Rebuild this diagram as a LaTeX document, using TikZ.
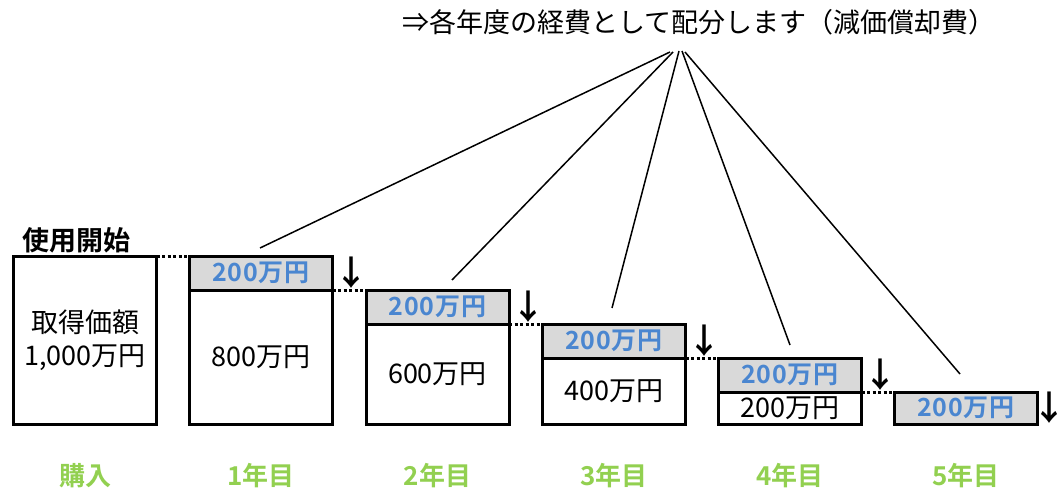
\documentclass[tikz,border=0pt]{standalone}
\usepackage{fontspec}
\setmainfont{Noto Sans CJK JP}[BoldFont={Noto Sans CJK JP Bold}]
\newfontfamily\valfont{Noto Sans CJK JP}[BoldFont={Noto Sans CJK JP Bold},LetterSpace=3]
\definecolor{bandgray}{HTML}{D9D9D9}
\definecolor{valblue}{HTML}{4A86D0}
\definecolor{yeargreen}{HTML}{92D050}
\begin{document}
\begin{tikzpicture}[x=1pt,y=-1pt,
  lower/.style={draw=black, line width=3pt, inner sep=0pt, outer sep=0pt, anchor=north west,
    minimum width=143pt, font=\fontsize{27}{33}\selectfont, align=center},
  band/.style={draw=black, line width=3pt, fill=bandgray, inner sep=0pt, outer sep=0pt, anchor=north west,
    minimum width=143pt, minimum height=34pt, text=valblue, font=\valfont\bfseries\fontsize{25}{30}\selectfont},
  dotline/.style={line width=3pt, dash pattern=on 3pt off 2.5pt},
  leader/.style={line width=1.5pt},
  downarr/.style={font=\bfseries\fontsize{34}{34}\selectfont, inner sep=0pt},
  year/.style={text=yeargreen, font=\bfseries\fontsize{26}{30}\selectfont, inner sep=0pt},
  title/.style={font=\fontsize{27}{30}\selectfont, inner sep=0pt}]
\useasboundingbox (0,0) rectangle (1059,494);

% title and heading
\node[title] (title) at (699,22) {⇒各年度の経費として配分します（減価償却費）};
\node[font=\bfseries\fontsize{27}{30}\selectfont, inner sep=0pt] (start) at (76,240) {使用開始};

% purchase box
\node[lower, minimum height=168pt] (b0) at (13.5,256) {取得価額\\1,000万円};

% yearly boxes
\node[lower, minimum height=134pt] (b1) at (189.5,290) {800万円};
\node[band] (g1) at (189.5,256) {200万円};

\node[lower, minimum height=100pt] (b2) at (366,324) {600万円};
\node[band] (g2) at (366,290) {200万円};

\node[lower, minimum height=66pt] (b3) at (542.5,358) {400万円};
\node[band] (g3) at (542.5,324) {200万円};

\node[lower, minimum height=32pt] (b4) at (718.5,392) {200万円};
\node[band] (g4) at (718.5,358) {200万円};

\node[band, minimum height=32pt] (g5) at (894.5,392) {200万円};

% dotted connectors
\draw[dotline] (b0.north east) -- (g1.north west);
\draw[dotline] (g1.south east) -- (g2.north west);
\draw[dotline] (g2.south east) -- (g3.north west);
\draw[dotline] (g3.south east) -- (g4.north west);
\draw[dotline] (g4.south east) -- (g5.north west);

% down arrows
\node[downarr] (d1) at ([xshift=19pt]g1.east) {↓};
\node[downarr] (d2) at ([xshift=19pt]g2.east) {↓};
\node[downarr] (d3) at ([xshift=19pt]g3.east) {↓};
\node[downarr] (d4) at ([xshift=19pt]g4.east) {↓};
\node[downarr] (d5) at ([xshift=12pt]g5.east) {↓};

% leader lines
\coordinate (a1) at (670,52);
\coordinate (a2) at (673,52);
\coordinate (a3) at (679,51);
\coordinate (a4) at (682,51);
\coordinate (a5) at (685,52);
\coordinate (e1) at (260,248);
\coordinate (e2) at (452,280);
\coordinate (e3) at (612,308);
\coordinate (e4) at (790,345);
\coordinate (e5) at (960,374);
\draw[leader] (a1) -- (e1);
\draw[leader] (a2) -- (e2);
\draw[leader] (a3) -- (e3);
\draw[leader] (a4) -- (e4);
\draw[leader] (a5) -- (e5);

% year labels
\node[year] (y0) at ([yshift=-52pt]b0.south) {購入};
\node[year] (y1) at ([yshift=-52pt]b1.south) {1年目};
\node[year] (y2) at ([yshift=-52pt]b2.south) {2年目};
\node[year] (y3) at ([yshift=-52pt]b3.south) {3年目};
\node[year] (y4) at ([yshift=-52pt]b4.south) {4年目};
\node[year] (y5) at ([yshift=-52pt]g5.south) {5年目};
\end{tikzpicture}
\end{document}
